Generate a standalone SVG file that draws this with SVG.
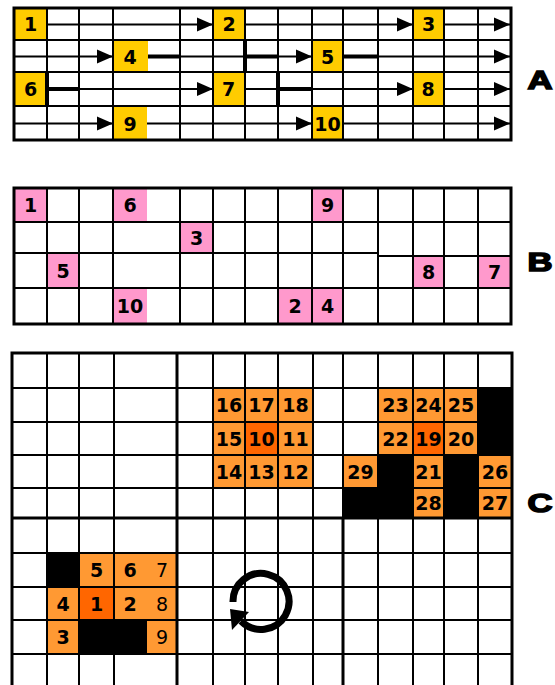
<svg xmlns="http://www.w3.org/2000/svg" width="555" height="685" viewBox="0 0 555 685">
<style>
.ln{stroke:#000;stroke-width:2;fill:none}
.tk{stroke:#000;stroke-width:4;fill:none}
.bd{stroke:#000;stroke-width:3;fill:none}
.y{fill:#FFCC00}
.p{fill:#FF99CC}
.o{fill:#FF9933}
.d{fill:#FF6600}
.k{fill:#000}
.n{font-family:"DejaVu Sans",sans-serif;font-weight:bold;font-size:19px;text-anchor:middle;fill:#000}
.nr{font-family:"DejaVu Sans",sans-serif;font-weight:normal;font-size:19px;text-anchor:middle;fill:#000}
.lbl{font-family:"Liberation Sans",sans-serif;font-weight:bold;font-size:25px;text-anchor:middle;fill:#000;stroke:#000;stroke-width:1.5}
.ah{fill:#000}
</style>
<rect width="555" height="685" fill="#fff"/>

<!-- ================= PANEL A ================= -->
<g id="panelA">
  <g id="gridA-mid">
    <path class="ln" d="M14,24.5H511M14,56.5H511M14,89H511M14,123.5H511"/>
  </g>
  <g id="A1"><rect class="y" x="14" y="8" width="33" height="32"/><text class="n" x="30.5" y="31">1</text></g>
  <g id="A2"><rect class="y" x="213" y="8" width="32" height="32"/><text class="n" x="229" y="31">2</text></g>
  <g id="A3"><rect class="y" x="413" y="8" width="31" height="32"/><text class="n" x="428.5" y="31">3</text></g>
  <g id="A4"><rect class="y" x="113" y="40" width="35" height="32"/><text class="n" x="130" y="63.5">4</text></g>
  <g id="A5"><rect class="y" x="312" y="40" width="31" height="32"/><text class="n" x="327.5" y="63.5">5</text></g>
  <g id="A6"><rect class="y" x="14" y="72" width="33" height="34"/><text class="n" x="30.5" y="96">6</text></g>
  <g id="A7"><rect class="y" x="213" y="72" width="31" height="34"/><text class="n" x="228.5" y="96">7</text></g>
  <g id="A8"><rect class="y" x="413" y="72" width="30" height="34"/><text class="n" x="428" y="96">8</text></g>
  <g id="A9"><rect class="y" x="113" y="106" width="34" height="34"/><text class="n" x="130" y="130.5">9</text></g>
  <g id="A10"><rect class="y" x="312" y="106" width="31" height="34"/><text class="n" x="327.5" y="130.5">10</text></g>
  <g id="gridA">
    <path class="ln" d="M14,40H511M14,72H511M14,106H511
      M47,8V140M79,8V140M113,8V140M180,8V140M213,8V140M245,8V140M278,8V140M312,8V140M343,8V140M378,8V140M413,8V140M444,8V140M478,8V140"/>
    <path class="bd" d="M14,8H511V140H14Z"/>
  </g>
  <text class="lbl" x="540" y="89" textLength="25" lengthAdjust="spacingAndGlyphs">A</text>
</g>

<!-- connectors of panel A -->
<g id="connectors">
  <path class="tk" d="M148,56.5H180M245,40V72M245,56.5H278M343,56.5H378M47,72V106M47,89H79M278,72V106M278,89H312"/>
  <polygon class="ah" points="197,17.5 213,24.5 197,31.5"/>
  <polygon class="ah" points="397,17.5 413,24.5 397,31.5"/>
  <polygon class="ah" points="494,17.5 510,24.5 494,31.5"/>
  <polygon class="ah" points="97,49.5 113,56.5 97,63.5"/>
  <polygon class="ah" points="296,49.5 312,56.5 296,63.5"/>
  <polygon class="ah" points="494,49.5 510,56.5 494,63.5"/>
  <polygon class="ah" points="197,82 213,89 197,96"/>
  <polygon class="ah" points="397,82 413,89 397,96"/>
  <polygon class="ah" points="494,82 510,89 494,96"/>
  <polygon class="ah" points="97,116.5 113,123.5 97,130.5"/>
  <polygon class="ah" points="296,116.5 312,123.5 296,130.5"/>
  <polygon class="ah" points="494,116.5 510,123.5 494,130.5"/>
</g>

<!-- ================= PANEL B ================= -->
<g id="panelB">
  <g id="B1"><rect class="p" x="14" y="188" width="33" height="34"/><text class="n" x="30.5" y="212">1</text></g>
  <g id="B6"><rect class="p" x="113" y="188" width="34" height="34"/><text class="n" x="130" y="212">6</text></g>
  <g id="B9"><rect class="p" x="312" y="188" width="31" height="34"/><text class="n" x="327.5" y="212">9</text></g>
  <g id="B3"><rect class="p" x="180" y="222" width="33" height="31"/><text class="n" x="196.5" y="244.5">3</text></g>
  <g id="B5"><rect class="p" x="47" y="253" width="32" height="35"/><text class="n" x="63" y="277.5">5</text></g>
  <g id="B8"><rect class="p" x="413" y="256" width="31" height="32"/><text class="n" x="428.5" y="279">8</text></g>
  <g id="B7"><rect class="p" x="478" y="256" width="33" height="32"/><text class="n" x="494.5" y="279">7</text></g>
  <g id="B10"><rect class="p" x="113" y="288" width="34" height="36"/><text class="n" x="130" y="313">10</text></g>
  <g id="B2"><rect class="p" x="278" y="288" width="34" height="36"/><text class="n" x="295" y="313">2</text></g>
  <g id="B4"><rect class="p" x="312" y="288" width="31" height="36"/><text class="n" x="327.5" y="313">4</text></g>
  <g id="gridB">
    <path class="ln" d="M14,222H511M14,253H378V256H511M14,288H511
      M47,188V324M79,188V324M113,188V324M180,188V324M213,188V324M245,188V324M278,188V324M312,188V324M343,188V324M378,188V324M413,188V324M444,188V324M478,188V324"/>
    <path class="bd" d="M14,188H511V324H14Z"/>
  </g>
  <text class="lbl" x="540" y="271" textLength="25" lengthAdjust="spacingAndGlyphs">B</text>
</g>

<!-- ================= PANEL C ================= -->
<g id="panelC">
  <g id="C-black">
    <rect class="k" x="478" y="388" width="34" height="67"/>
    <rect class="k" x="378" y="455" width="35" height="33"/>
    <rect class="k" x="444" y="455" width="34" height="63"/>
    <rect class="k" x="343" y="488" width="70" height="30"/>
    <rect class="k" x="47" y="553" width="32" height="34"/>
    <rect class="k" x="79" y="620" width="68" height="34"/>
  </g>
  <g id="C16"><rect class="o" x="213" y="388" width="32" height="34"/><text class="n" x="229" y="412">16</text></g>
  <g id="C17"><rect class="o" x="245" y="388" width="33" height="34"/><text class="n" x="261.5" y="412">17</text></g>
  <g id="C18"><rect class="o" x="278" y="388" width="35" height="34"/><text class="n" x="295.5" y="412">18</text></g>
  <g id="C15"><rect class="o" x="213" y="422" width="32" height="33"/><text class="n" x="229" y="445.5">15</text></g>
  <g id="C10"><rect class="d" x="245" y="422" width="33" height="33"/><text class="n" x="261.5" y="445.5">10</text></g>
  <g id="C11"><rect class="o" x="278" y="422" width="35" height="33"/><text class="n" x="295.5" y="445.5">11</text></g>
  <g id="C14"><rect class="o" x="213" y="455" width="32" height="33"/><text class="n" x="229" y="478.5">14</text></g>
  <g id="C13"><rect class="o" x="245" y="455" width="33" height="33"/><text class="n" x="261.5" y="478.5">13</text></g>
  <g id="C12"><rect class="o" x="278" y="455" width="35" height="33"/><text class="n" x="295.5" y="478.5">12</text></g>
  <g id="C23"><rect class="o" x="378" y="388" width="35" height="34"/><text class="n" x="395.5" y="412">23</text></g>
  <g id="C24"><rect class="o" x="413" y="388" width="31" height="34"/><text class="n" x="428.5" y="412">24</text></g>
  <g id="C25"><rect class="o" x="444" y="388" width="34" height="34"/><text class="n" x="461" y="412">25</text></g>
  <g id="C22"><rect class="o" x="378" y="422" width="35" height="33"/><text class="n" x="395.5" y="445.5">22</text></g>
  <g id="C19"><rect class="d" x="413" y="422" width="31" height="33"/><text class="n" x="428.5" y="445.5">19</text></g>
  <g id="C20"><rect class="o" x="444" y="422" width="34" height="33"/><text class="n" x="461" y="445.5">20</text></g>
  <g id="C29"><rect class="o" x="343" y="455" width="35" height="33"/><text class="n" x="360.5" y="478.5">29</text></g>
  <g id="C21"><rect class="o" x="413" y="455" width="31" height="33"/><text class="n" x="428.5" y="478.5">21</text></g>
  <g id="C26"><rect class="o" x="478" y="455" width="34" height="33"/><text class="n" x="495" y="478.5">26</text></g>
  <g id="C28"><rect class="o" x="413" y="488" width="31" height="30"/><text class="n" x="428.5" y="510">28</text></g>
  <g id="C27"><rect class="o" x="478" y="488" width="34" height="30"/><text class="n" x="495" y="510">27</text></g>
  <g id="C5"><rect class="o" x="79" y="553" width="35" height="34"/><text class="n" x="96.5" y="577">5</text></g>
  <g id="C67"><rect class="o" x="114" y="553" width="63" height="34"/><text class="n" x="130" y="577">6</text><text class="nr" x="162" y="577">7</text></g>
  <g id="C4"><rect class="o" x="47" y="587" width="32" height="33"/><text class="n" x="63" y="610.5">4</text></g>
  <g id="C1"><rect class="d" x="79" y="587" width="35" height="33"/><text class="n" x="96.5" y="610.5">1</text></g>
  <g id="C28b"><rect class="o" x="114" y="587" width="63" height="33"/><text class="n" x="130" y="610.5">2</text><text class="nr" x="162" y="610.5">8</text></g>
  <g id="C3"><rect class="o" x="47" y="620" width="32" height="34"/><text class="n" x="63" y="644">3</text></g>
  <g id="C9"><rect class="o" x="147" y="620" width="30" height="34"/><text class="nr" x="162" y="644">9</text></g>
  <g id="gridC">
    <path class="ln" d="M12,388H512M12,422H512M12,455H512M12,488H512M12,553H512M12,587H512M12,620H512M12,654H512
      M47,353V688M79,353V688M114,353V688M213,353V688M245,353V688M278,353V688M313,353V688M343,353V518M378,353V688M413,353V688M444,353V688M478,353V688"/>
    <path class="bd" d="M12,688V353H512V688M177,353V688M343,518V688M12,518H512"/>
  </g>
  <g id="rotation">
    <path d="M233,602A28,28 0 1 1 241,621" fill="none" stroke="#000" stroke-width="7"/>
    <polygon class="ah" points="230,609 249,612 232,630"/>
  </g>
  <text class="lbl" x="540" y="512" textLength="25" lengthAdjust="spacingAndGlyphs">C</text>
</g>
</svg>
